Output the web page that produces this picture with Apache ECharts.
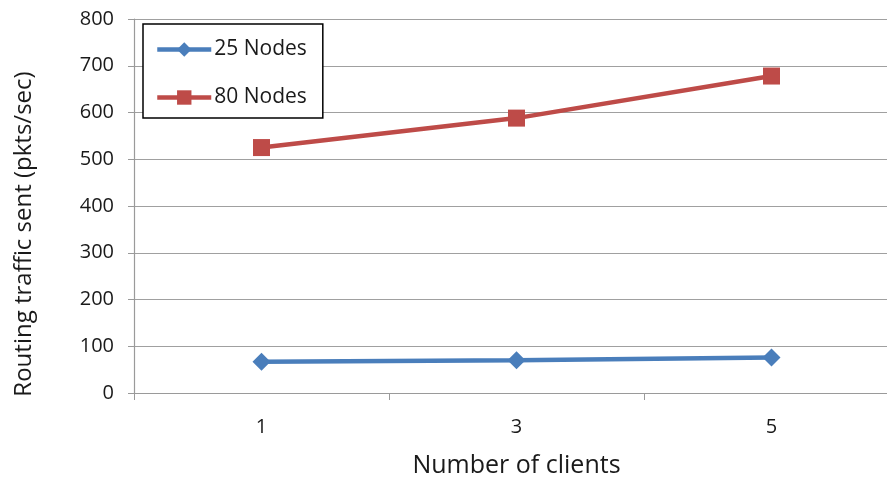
<!DOCTYPE html>
<html><head><meta charset="utf-8">
<script src="https://cdn.jsdelivr.net/npm/echarts@6/dist/echarts.min.js"></script>
<style>html,body{margin:0;padding:0;background:#fff}#c{width:887px;height:485px}</style>
</head><body><div id="c"></div>
<script>
const categories = ['1', '3', '5'];
const nodes25 = [67, 70, 76];
const nodes80 = [525, 588, 678];
const seriesNames = ['25 Nodes', '80 Nodes'];
const colors = ['#4a7ebb', '#be4b48'];

const chart = echarts.init(document.getElementById('c'));
const font = '"Open Sans", "Liberation Sans", sans-serif';
chart.setOption({
  animation: false,
  backgroundColor: '#fff',
  grid: { left: 134, width: 765, top: 19, height: 374, outerBoundsMode: 'none', containLabel: false },
  legend: {
    orient: 'vertical', left: 143, top: 24,
    padding: [15, 16, 10, 12], itemGap: 27,
    itemWidth: 54, itemHeight: 18,
    backgroundColor: '#fff', borderColor: '#000', borderWidth: 1.5, borderRadius: 0,
    textStyle: { fontFamily: font, fontSize: 21, color: '#1a1a1a', lineHeight: 16, padding: [0, 0, 0, -2] },
    data: [
      { name: seriesNames[0], lineStyle: { width: 4.5 } },
      { name: seriesNames[1], lineStyle: { width: 4.5 } }
    ]
  },
  xAxis: {
    type: 'category', data: categories, boundaryGap: true,
    name: 'Number of clients', nameLocation: 'middle', nameGap: 60,
    nameTextStyle: { fontFamily: font, fontSize: 25, color: '#1a1a1a' },
    axisLine: { lineStyle: { color: '#9a9a9a', width: 1.2 } },
    axisTick: { show: true, length: 7, lineStyle: { color: '#9a9a9a' } },
    axisLabel: { fontFamily: font, fontSize: 20, color: '#1a1a1a', margin: 24 }
  },
  yAxis: {
    type: 'value', min: 0, max: 800, interval: 100,
    name: 'Routing traffic sent (pkts/sec)', nameLocation: 'middle', nameGap: 98,
    nameTextStyle: { fontFamily: font, fontSize: 24, color: '#1a1a1a', padding: [0, 56, 0, 0] },
    axisLine: { show: true, lineStyle: { color: '#9a9a9a', width: 1.2 } },
    axisTick: { show: true, length: 6, lineStyle: { color: '#9a9a9a' } },
    axisLabel: { fontFamily: font, fontSize: 20, color: '#1a1a1a', margin: 20 },
    splitLine: { lineStyle: { color: '#a0a0a0', width: 1.2 } }
  },
  series: [
    { name: seriesNames[0], type: 'line', data: nodes25,
      symbol: 'diamond', symbolSize: 18,
      lineStyle: { color: colors[0], width: 4.5 }, itemStyle: { color: colors[0] } },
    { name: seriesNames[1], type: 'line', data: nodes80,
      symbol: 'rect', symbolSize: 17,
      lineStyle: { color: colors[1], width: 4.5 }, itemStyle: { color: colors[1] } }
  ]
});
</script></body></html>
